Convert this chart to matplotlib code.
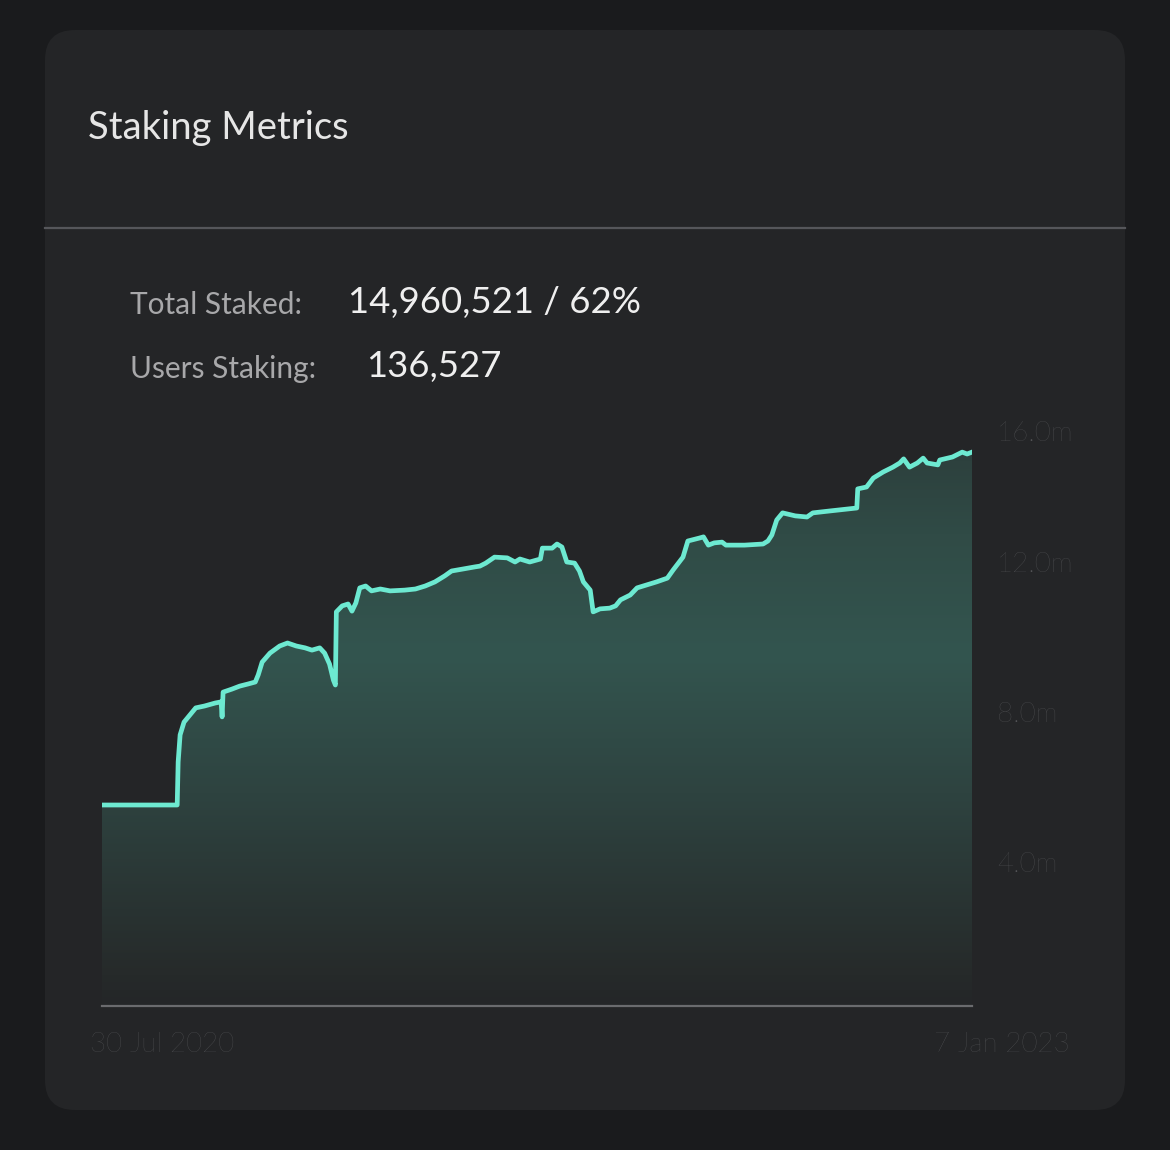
import numpy as np
import matplotlib
matplotlib.use("Agg")
import matplotlib.pyplot as plt
from matplotlib.patches import FancyBboxPatch
from matplotlib.colors import LinearSegmentedColormap
from matplotlib.transforms import ScaledTranslation

plt.rcParams['font.family'] = ['Lato', 'DejaVu Sans']

# ---- data ----
start_date = np.datetime64('2020-07-30')
day_offset = [0, 77, 78, 80, 84, 90, 96, 105, 116, 122, 123, 124, 133, 141, 150, 157,
              160, 164, 172, 182, 190, 199, 208, 215, 223, 228, 233, 237, 239, 240,
              246, 252, 256, 260, 264, 270, 276, 285, 295, 310, 321, 331, 341, 351,
              358, 369, 382, 387, 393, 402, 415, 423, 428, 438, 449, 451, 461, 466,
              471, 476, 484, 489, 493, 500, 503, 510, 520, 526, 531, 541, 548, 558,
              568, 579, 585, 595, 600, 612, 616, 621, 627, 635, 639, 658, 677, 682,
              686, 691, 697, 710, 722, 728, 745, 773, 774, 783, 790, 800, 810, 817,
              821, 827, 835, 841, 845, 856, 858, 871, 881, 886, 891]
staked_m = [5.52, 5.52, 6.67, 7.39, 7.73, 7.92, 8.11, 8.16, 8.24, 8.27, 7.87, 8.53,
            8.61, 8.69, 8.75, 8.80, 8.99, 9.33, 9.57, 9.76, 9.84, 9.76, 9.71, 9.65,
            9.71, 9.57, 9.28, 8.85, 8.72, 10.67, 10.83, 10.88, 10.69, 10.91, 11.31,
            11.36, 11.23, 11.28, 11.23, 11.25, 11.28, 11.36, 11.47, 11.63, 11.76,
            11.81, 11.87, 11.89, 11.97, 12.13, 12.11, 12.00, 12.08, 12.00, 12.08,
            12.37, 12.37, 12.48, 12.40, 12.00, 11.97, 11.76, 11.47, 11.25, 10.67,
            10.75, 10.77, 10.83, 10.99, 11.12, 11.31, 11.39, 11.47, 11.57, 11.79,
            12.13, 12.56, 12.64, 12.67, 12.45, 12.51, 12.53, 12.45, 12.45, 12.48,
            12.56, 12.72, 13.12, 13.31, 13.23, 13.20, 13.31, 13.36, 13.44, 13.95,
            14.00, 14.24, 14.40, 14.53, 14.64, 14.75, 14.53, 14.64, 14.77, 14.64,
            14.59, 14.72, 14.80, 14.93, 14.88, 14.93]
y_ticks = [4, 8, 12, 16]
y_tick_labels = ['4.0m', '8.0m', '12.0m', '16.0m']
date_labels = ['30 Jul 2020', '7 Jan 2023']
title = 'Staking Metrics'
stat_names = ['Total Staked:', 'Users Staking:']
stat_values = ['14,960,521 / 62%', '136,527']

dates = start_date + np.array(day_offset, dtype='timedelta64[D]')
staked = np.array(staked_m)

W, H = 1170, 1150
fig = plt.figure(figsize=(W / 100, H / 100), dpi=100)
fig.patch.set_facecolor('#1a1b1d')

# background axes in pixel coordinates for the card
bg = fig.add_axes([0, 0, 1, 1])
bg.set_xlim(0, W)
bg.set_ylim(H, 0)
bg.axis('off')
card = FancyBboxPatch((45, 30), 1080, 1080, boxstyle='round,pad=0,rounding_size=30',
                      facecolor='#242527', edgecolor='none')
bg.add_patch(card)
bg.plot([45, 1125], [228, 228], color='#55565a', lw=1.6)

label_grey = '#56575a'
bg.text(88, 128, title, color='#e6e6e6', fontsize=27.5, va='center', ha='left')
bg.text(130, 305, stat_names[0], color='#a8a8aa', fontsize=21.5, va='center', ha='left')
bg.text(348, 303, stat_values[0], color='#efefef', fontsize=26.3, va='center', ha='left')
bg.text(130, 369, stat_names[1], color='#a8a8aa', fontsize=21.5, va='center', ha='left')
bg.text(366, 367, stat_values[1], color='#efefef', fontsize=26.3, va='center', ha='left')
bg.text(90, 1045, date_labels[0], color=label_grey, fontsize=20, va='center', ha='left',
        fontweight='light')
bg.text(1070, 1045, date_labels[1], color=label_grey, fontsize=20, va='center', ha='right',
        fontweight='light')

# chart axes
ax_top, ax_bot = 400, 1006
ax = fig.add_axes([102 / W, 1 - ax_bot / H, 870 / W, (ax_bot - ax_top) / H])
ax.set_facecolor('none')
y_lo = (1012 - ax_bot) / 37.5
y_hi = (1012 - ax_top) / 37.5
ax.set_ylim(y_lo, y_hi)
ax.set_xlim(dates[0], dates[-1])

# gradient fill clipped to the area under the line
grad = LinearSegmentedColormap.from_list('g', [
    (0.0, '#242628'), (0.05, '#262a2a'), (0.35, '#2e4340'),
    (0.58, '#33554f'), (0.78, '#304b46'), (0.9, '#2d413e'), (1.0, '#2c3f3c')])
img = np.linspace(0, 1, 256).reshape(-1, 1)
x0, x1 = ax.get_xlim()
im = ax.imshow(img, cmap=grad, aspect='auto', origin='lower',
               extent=[x0, x1, y_lo, y_hi], zorder=1)
poly = ax.fill_between(dates, staked, y_lo, color='none', lw=0)
im.set_clip_path(poly.get_paths()[0], transform=ax.transData)
ax.set_xlim(x0, x1)
ax.set_ylim(y_lo, y_hi)

ax.plot(dates, staked, color='#6de9d1', lw=3.4, solid_joinstyle='round', zorder=3)

for side in ['top', 'left', 'right']:
    ax.spines[side].set_visible(False)
ax.spines['bottom'].set_color('#6a6b6e')
ax.spines['bottom'].set_linewidth(1.6)
ax.set_xticks([])
ax.yaxis.tick_right()
ax.set_yticks(y_ticks)
ax.set_yticklabels(y_tick_labels)
ax.tick_params(axis='y', length=0, pad=18, labelsize=20, labelcolor=label_grey)
for lab in ax.get_yticklabels():
    lab.set_fontweight('light')

# top label sits a bit lower than its gridline value in the reference
top_lab = ax.yaxis.get_major_ticks()[-1].label2
top_lab.set_transform(top_lab.get_transform() +
                      ScaledTranslation(0, -19 / 100, fig.dpi_scale_trans))

fig.savefig('out.png', dpi=100, facecolor=fig.get_facecolor())
